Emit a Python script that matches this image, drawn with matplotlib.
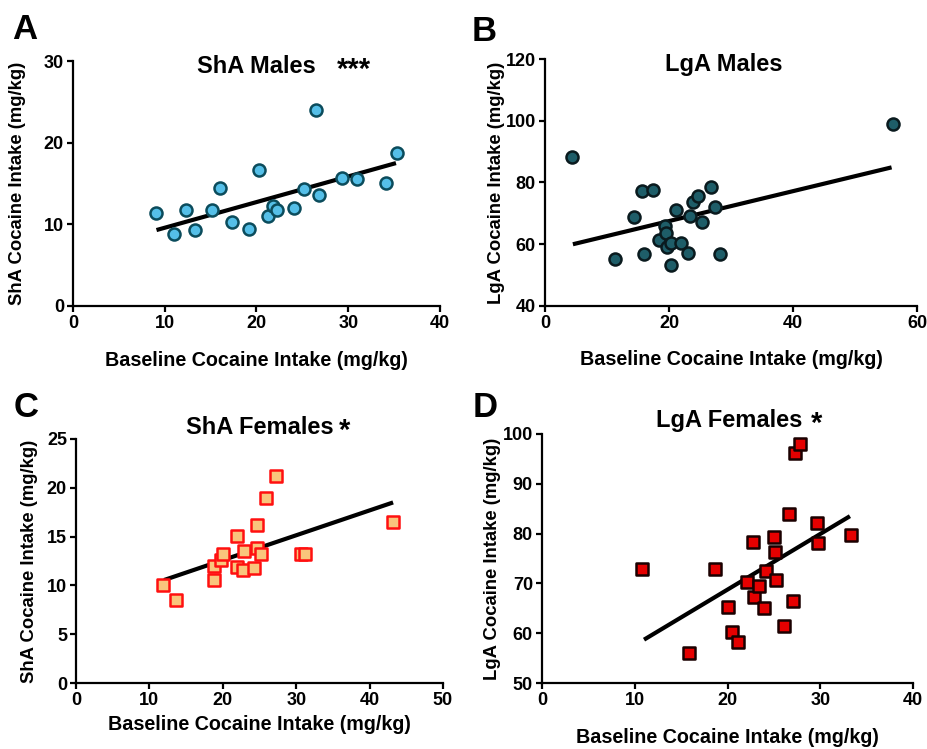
import matplotlib.pyplot as plt

plt.rcParams['font.family'] = ['Liberation Sans', 'DejaVu Sans']
plt.rcParams['font.weight'] = 'bold'

# Panel A - ShA Males
sha_m_x = [9.1, 11.0, 12.3, 13.3, 15.2, 16.0, 17.3, 19.2, 20.3, 21.2, 21.8, 22.2,
           24.1, 25.2, 26.5, 26.8, 29.3, 30.9, 34.1, 35.3]
sha_m_y = [11.4, 8.8, 11.7, 9.3, 11.7, 14.5, 10.3, 9.4, 16.7, 11.0, 12.2, 11.7,
           12.0, 14.3, 24.0, 13.6, 15.7, 15.5, 15.1, 18.7]
sha_m_fit = ([9.1, 35.2], [9.3, 17.5])

# Panel B - LgA Males
lga_m_x = [4.4, 11.3, 14.4, 15.6, 15.9, 17.5, 18.4, 19.35, 19.5, 19.6, 20.3, 20.3,
           21.1, 21.9, 23.0, 23.4, 23.9, 24.7, 25.3, 26.8, 27.4, 28.3, 56.1]
lga_m_y = [88.1, 55.2, 68.8, 77.1, 56.8, 77.6, 61.3, 66.0, 63.6, 59.0, 60.3, 53.3,
           71.0, 60.4, 57.2, 69.0, 73.6, 75.7, 67.2, 78.6, 72.2, 56.8, 98.9]
lga_m_fit = ([4.5, 55.9], [60.0, 84.9])

# Panel C - ShA Females
sha_f_x = [11.9, 13.6, 18.8, 18.8, 19.8, 20.0, 21.9, 21.9, 22.7, 22.9, 24.2, 24.7,
           24.7, 25.2, 25.9, 27.2, 30.7, 31.2, 43.2]
sha_f_y = [10.0, 8.5, 12.0, 10.6, 12.6, 13.2, 15.1, 11.9, 11.6, 13.5, 11.8, 13.8,
           16.2, 13.2, 19.0, 21.2, 13.2, 13.2, 16.5]
sha_f_fit = ([12.0, 43.2], [10.55, 18.5])

# Panel D - LgA Females
lga_f_x = [10.8, 15.8, 18.7, 20.0, 20.5, 21.1, 22.1, 22.8, 22.9, 23.4, 23.9, 24.2,
           25.0, 25.1, 25.25, 26.1, 26.65, 27.1, 27.3, 27.8, 29.6, 29.8, 33.3]
lga_f_y = [72.8, 56.0, 72.8, 65.3, 60.2, 58.3, 70.2, 78.4, 67.2, 69.4, 65.0, 72.4,
           79.3, 76.3, 70.6, 61.5, 83.9, 66.5, 96.1, 97.9, 82.1, 78.2, 79.7]
lga_f_fit = ([11.0, 33.2], [58.7, 83.5])

fig = plt.figure(figsize=(9.28, 7.49), dpi=100)
W, H = 928, 749


def add_ax(left, top, right, bottom):
    return fig.add_axes([left / W, 1 - bottom / H, (right - left) / W, (bottom - top) / H])


panels = [
    dict(box=(73, 61, 440, 306), x=sha_m_x, y=sha_m_y, fit=sha_m_fit,
         marker="o", size=75, fc="#55bfe8", ec="#0b4c5c",
         xlim=(0, 40), xt=[0, 10, 20, 30, 40], ylim=(0, 30), yt=[0, 10, 20, 30],
         title="ShA Males", tpos=(256, 73), stars="***", spos=(337, 78),
         ylabel="ShA Cocaine Intake (mg/kg)", ylx=26, xlp=14, letter="A", lpos=(12, 13)),
    dict(box=(545, 59, 917, 306), x=lga_m_x, y=lga_m_y, fit=lga_m_fit,
         marker="o", size=75, fc="#1e5d68", ec="#0a1a1e",
         xlim=(0, 60), xt=[0, 20, 40, 60], ylim=(40, 120), yt=[40, 60, 80, 100, 120],
         title="LgA Males", tpos=(724, 71), stars="", spos=(0, 0),
         ylabel="LgA Cocaine Intake (mg/kg)", ylx=505, xlp=13, letter="B", lpos=(472, 15)),
    dict(box=(76, 439, 443, 683), x=sha_f_x, y=sha_f_y, fit=sha_f_fit,
         marker="s", size=70, fc="#f9c57c", ec="#ff1010",
         xlim=(0, 50), xt=[0, 10, 20, 30, 40, 50], ylim=(0, 25), yt=[0, 5, 10, 15, 20, 25],
         title="ShA Females", tpos=(260, 434), stars="*", spos=(339, 439),
         ylabel="ShA Cocaine Intake (mg/kg)", ylx=38, xlp=4, letter="C", lpos=(14, 391)),
    dict(box=(542, 434, 913, 683), x=lga_f_x, y=lga_f_y, fit=lga_f_fit,
         marker="s", size=70, fc="#e60000", ec="#1a0000",
         xlim=(0, 40), xt=[0, 10, 20, 30, 40], ylim=(50, 100), yt=[50, 60, 70, 80, 90, 100],
         title="LgA Females", tpos=(729, 427), stars="*", spos=(811, 432),
         ylabel="LgA Cocaine Intake (mg/kg)", ylx=501, xlp=14, letter="D", lpos=(473, 391)),
]

for p in panels:
    ax = add_ax(*p["box"])
    ax.scatter(p["x"], p["y"], s=p["size"], marker=p["marker"], facecolor=p["fc"],
               edgecolor=p["ec"], linewidth=1.8, zorder=3, clip_on=False)
    ax.plot(p["fit"][0], p["fit"][1], color="black", lw=3, zorder=2,
            solid_capstyle="butt")
    ax.set_xlim(*p["xlim"])
    ax.set_ylim(*p["ylim"])
    ax.set_xticks(p["xt"])
    ax.set_yticks(p["yt"])
    for s in ["top", "right"]:
        ax.spines[s].set_visible(False)
    for s in ["left", "bottom"]:
        ax.spines[s].set_linewidth(1.6)
    ax.tick_params(width=1.6, length=4.5, labelsize=13, pad=2)
    for lab in ax.get_xticklabels() + ax.get_yticklabels():
        lab.set_fontweight("bold")
    ax.set_xlabel("Baseline Cocaine Intake (mg/kg)", fontsize=14.2, fontweight="bold",
                  labelpad=p["xlp"])
    ax.set_ylabel(p["ylabel"], fontsize=13.3, fontweight="bold")
    left = p["box"][0]
    ax.yaxis.set_label_coords((p["ylx"] - left) / (p["box"][2] - left), 0.5)
    fig.text(p["tpos"][0] / W, 1 - p["tpos"][1] / H, p["title"], fontsize=17,
             fontweight="bold", ha="center", va="baseline")
    if p["stars"]:
        fig.text(p["spos"][0] / W, 1 - p["spos"][1] / H, p["stars"], fontsize=21,
                 fontweight="bold", ha="left", va="baseline")
    fig.text(p["lpos"][0] / W, 1 - p["lpos"][1] / H, p["letter"], fontsize=25,
             fontweight="bold", ha="left", va="top")

fig.savefig("out.png", dpi=100)
